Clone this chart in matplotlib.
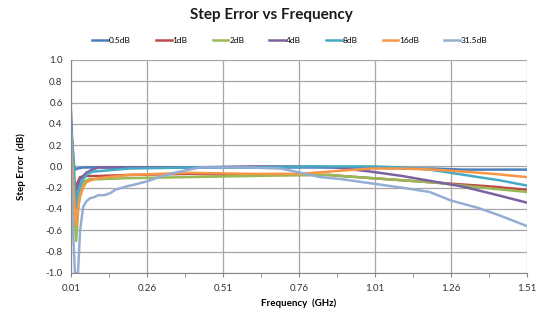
import matplotlib
matplotlib.use("Agg")
import matplotlib.pyplot as plt
from matplotlib.ticker import FormatStrFormatter

plt.rcParams['font.family'] = ['Lato', 'DejaVu Sans']

labels = ["0.5dB", "1dB", "2dB", "4dB", "8dB", "16dB", "31.5dB"]
colors = ["#4A7EBB", "#BE4B48", "#98B954", "#7D60A0", "#46AAC5", "#F79646", "#94AED3"]

f_05 = [0.01, 0.02, 0.025, 0.03, 0.05, 0.1, 0.3, 0.5, 0.7, 0.9, 1.0, 1.1, 1.2, 1.3, 1.4, 1.51]
v_05 = [0.35, 0.0, -0.03, -0.02, -0.01, -0.01, -0.01, -0.01, -0.01, -0.01, -0.01, -0.02, -0.02, -0.03, -0.03, -0.03]

f_1 = [0.01, 0.02, 0.023, 0.03, 0.04, 0.06, 0.1, 0.2, 0.4, 0.6, 0.8, 0.86, 0.9, 1.0, 1.1, 1.2, 1.3, 1.4, 1.51]
v_1 = [0.3, -0.2, -0.27, -0.16, -0.1, -0.09, -0.09, -0.08, -0.07, -0.08, -0.08, -0.08, -0.09, -0.11, -0.13, -0.15, -0.17, -0.19, -0.22]

f_2 = [0.01, 0.02, 0.027, 0.035, 0.045, 0.055, 0.07, 0.1, 0.2, 0.4, 0.6, 0.8, 0.86, 0.9, 1.0, 1.1, 1.2, 1.3, 1.4, 1.51]
v_2 = [0.3, -0.4, -0.7, -0.35, -0.2, -0.14, -0.12, -0.12, -0.11, -0.1, -0.09, -0.08, -0.08, -0.09, -0.11, -0.13, -0.15, -0.18, -0.21, -0.24]

f_4 = [0.01, 0.015, 0.023, 0.03, 0.04, 0.06, 0.08, 0.1, 0.2, 0.4, 0.6, 0.8, 0.88, 1.0, 1.1, 1.2, 1.3, 1.4, 1.51]
v_4 = [0.51, 0.1, -0.27, -0.2, -0.12, -0.06, -0.03, -0.01, -0.01, -0.01, 0.0, 0.0, -0.01, -0.05, -0.09, -0.14, -0.19, -0.26, -0.34]

f_8 = [0.01, 0.02, 0.025, 0.03, 0.04, 0.05, 0.065, 0.08, 0.12, 0.2, 0.4, 0.6, 0.8, 1.0, 1.1, 1.19, 1.26, 1.35, 1.42, 1.51]
v_8 = [0.42, 0.0, -0.4, -0.3, -0.18, -0.12, -0.07, -0.05, -0.04, -0.02, -0.01, -0.01, 0.0, 0.0, -0.01, -0.03, -0.06, -0.1, -0.13, -0.18]

f_16 = [0.01, 0.02, 0.027, 0.033, 0.04, 0.05, 0.06, 0.075, 0.1, 0.2, 0.4, 0.6, 0.76, 0.9, 1.0, 1.1, 1.2, 1.26, 1.4, 1.51]
v_16 = [0.3, -0.3, -0.56, -0.4, -0.28, -0.2, -0.15, -0.13, -0.11, -0.08, -0.06, -0.07, -0.07, -0.04, -0.02, -0.02, -0.03, -0.04, -0.07, -0.1]

f_315 = [0.01, 0.015, 0.023, 0.033, 0.04, 0.05, 0.06, 0.072, 0.085, 0.1, 0.12, 0.14, 0.155, 0.19, 0.22, 0.26, 0.3, 0.35, 0.4, 0.435, 0.5, 0.6, 0.7, 0.75, 0.83, 0.9, 1.0, 1.1, 1.19, 1.26, 1.35, 1.42, 1.51]
v_315 = [0.3, -0.5, -1.0, -1.0, -0.6, -0.38, -0.33, -0.3, -0.29, -0.27, -0.27, -0.25, -0.22, -0.19, -0.17, -0.14, -0.1, -0.06, -0.03, -0.01, -0.01, -0.01, -0.02, -0.05, -0.1, -0.12, -0.16, -0.2, -0.24, -0.32, -0.39, -0.46, -0.56]

series = [(f_05, v_05), (f_1, v_1), (f_2, v_2), (f_4, v_4), (f_8, v_8), (f_16, v_16), (f_315, v_315)]
xticks = [0.01, 0.26, 0.51, 0.76, 1.01, 1.26, 1.51]
xminor = [0.135, 0.385, 0.635, 0.885, 1.135, 1.385]
yticks = [-1.0, -0.8, -0.6, -0.4, -0.2, 0.0, 0.2, 0.4, 0.6, 0.8, 1.0]

fig = plt.figure(figsize=(5.42, 3.14), dpi=100)
ax = fig.add_axes([0.131, 0.131, 0.841, 0.678])

for (f, v), lab, c in zip(series, labels, colors):
    ax.plot(f, v, color=c, lw=1.8, label=lab)

ax.set_xlim(0.01, 1.51)
ax.set_ylim(-1.0, 1.0)
ax.set_xticks(xticks)
ax.set_xticks(xminor, minor=True)
ax.set_yticks(yticks)
ax.xaxis.set_major_formatter(FormatStrFormatter("%.2f"))
ax.yaxis.set_major_formatter(FormatStrFormatter("%.1f"))
ax.grid(True, which="major", color="#A6A6A6", lw=0.9)
ax.set_axisbelow(True)
for s in ["top", "right"]:
    ax.spines[s].set_visible(False)
for s in ["left", "bottom"]:
    ax.spines[s].set_color("#868686")
ax.tick_params(axis="both", labelsize=7, colors="#333333", length=3, color="#868686")
ax.tick_params(axis="x", which="minor", length=3, color="#868686")
ax.tick_params(axis="y", length=0, pad=6)
ax.tick_params(axis="x", pad=5)

ax.set_xlabel("Frequency  (GHz)", fontsize=7, fontweight="bold", labelpad=4)
ax.set_ylabel("Step Error  (dB)", fontsize=7, fontweight="bold", labelpad=14)

fig.text(0.5, 0.952, "Step Error vs Frequency", ha="center", va="center", fontsize=11, fontweight="bold",
         color="#1a1a1a")
fig.legend(loc="center", bbox_to_anchor=(0.535, 0.872), ncol=7, fontsize=6, frameon=False,
           handlelength=1.9, handletextpad=0.1, columnspacing=3.0)

fig.savefig("out.png", dpi=100)
